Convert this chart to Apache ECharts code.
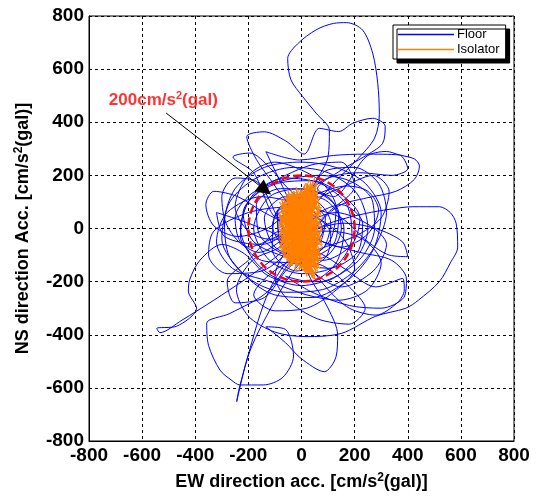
<!DOCTYPE html>
<html><head><meta charset="utf-8">
<script src="https://cdn.jsdelivr.net/npm/echarts@6/dist/echarts.min.js"></script>
<style>html,body{margin:0;padding:0;background:#fff}#c{width:536px;height:502px}</style>
</head><body><div id="c"></div>
<script>
const axisTicks = [-800,-600,-400,-200,0,200,400,600,800];
const legendNames = ['Floor','Isolator'];
const floorPts = [[0,0],[50,40],[110,-20],[90,-110],[-20,-160],[-110,-80],[-100,50],[0,130],[100,100],[160,0],[130,-130],[30,-200],[-60,-180],
[40,-240],[180,-290],[300,-300],[385,-260],[395,-190],[340,-120],[220,-90],[80,-50],[-40,10],
[-140,60],[-240,120],[-330,140],[-360,90],[-330,10],[-240,-30],[-130,0],[-40,70],[60,130],[170,160],[250,140],[290,70],[250,-20],[150,-70],[50,-30],
[0,60],[50,170],[100,270],[105,370],[55,434],[5,496],[-40,560],[-52,640],[-15,695],[55,748],[120,772],[170,775],[230,747],[268,660],[287,547],[293,430],[275,340],[210,260],[130,180],[50,90],
[-60,-30],[-160,-90],[-230,-50],[-250,40],[-190,130],[-70,180],[60,200],[180,180],[265,110],[275,0],[225,-110],[120,-185],[0,-215],[-130,-175],[-215,-95],
[-300,-60],[-382,-119],[-420,-190],[-426,-235],[-395,-300],[-470,-368],[-545,-376],[-533,-392],[-450,-345],[-330,-270],[-210,-190],[-100,-110],
[0,-30],[120,25],[243,57],[330,72],[419,82],[519,82],[560,60],[582,20],[588,-70],[560,-130],[519,-200],[440,-270],[393,-300],[280,-330],[150,-395],[17,-407],[-100,-390],[-200,-330],[-245,-230],[-185,-120],[-70,-60],
[-40,60],[-100,160],[-170,260],[-206,346],[-140,364],[-60,330],[10,280],[67,377],[140,365],[193,396],[268,415],[315,385],[305,320],[235,270],[150,220],[60,150],
[120,120],[243,270],[320,290],[368,277],[425,262],[444,235],[425,185],[355,140],[245,115],[140,85],
[40,-10],[-40,-120],[-130,-240],[-270,-320],[-357,-357],[-350,-440],[-307,-533],[-265,-570],[-232,-589],[-144,-589],[-70,-560],[-30,-480],[-60,-380],
[-134,-370],[-60,-430],[-2,-489],[86,-539],[130,-483],[136,-401],[100,-300],[40,-200],[-20,-100],
[-120,-230],[-206,-495],[-244,-652],[-234,-600],[-190,-450],[-110,-290],[-30,-160],
[50,-90],[160,-150],[280,-220],[381,-188],[387,-232],[360,-280],[280,-326],[180,-300],[100,-230],
[-50,-50],[-200,20],[-320,60],[-290,-30],[-150,-60],[-10,10],[130,60],[260,10],[320,-60],[270,-160],[150,-220],[40,-160],
[-80,-10],[-200,-120],[-280,-200],[-250,-280],[-140,-260],[-60,-160],[30,-60],
[-20,50],[-134,289],[-8,258],[120,275],[240,280],[368,277],[400,225],[340,200],[220,210],[100,190],[0,120],[-90,40],
[-180,210],[-258,269],[-194,284],[-120,230],[-50,150],[40,80],[150,40],[250,-50],[330,-100],[400,-106],[380,-50],[280,0],[160,20],[60,0],
[-30,-40],[-120,-40],[-200,-10],[-250,80],[-200,200],[-100,250],[0,220],[80,170],[130,80],[110,-40],[40,-100],[0,0],
[30,40],[150,90],[230,20],[210,-90],[100,-150],[-30,-130],[-150,-120],[-230,-30],[-200,100],[-90,170],[40,180],[160,120],[220,40],[190,-60],[80,-120],[-60,-100],[-160,-20],[-170,90],[-80,150],[50,140],[140,60],[120,-60],[20,-110],[-100,-70],[-140,40],[-60,120],[60,100],[110,20],[70,-80],[-40,-80],[-110,10],[-60,90],[40,70],[80,-10],[20,-70],[-80,-40],[-90,60],[10,90],[90,40],[60,-60],[-30,-50],
[-160,170],[-250,190],[-300,120],[-280,10],[-200,-70],[-60,-20],[100,-10],[230,-40],[300,-130],[250,-230],[140,-270],[20,-250],[-120,-200],[-260,-150],[-320,-50],[-280,60],[-150,120],[0,100],[140,150],[270,200],[330,140],[300,40],[200,-30],[60,-80],[-90,-150],[-180,-250],[-100,-310],[20,-300],[120,-240],[200,-150],[160,-40],[60,40],[-60,80],[-200,60],[-330,-10],[-350,-100],[-280,-170],[-150,-160],[-20,-60],[100,60],[200,160],[150,250],[40,240],[-60,200],[-150,150],[-220,60],[-180,-50],[-50,-110],[80,-140],[180,-220],[240,-300],[180,-360],[60,-340],[-50,-270],[-100,-180],[-20,-20],
[80,210],[200,230],[290,170],[320,60],[280,-60],[200,-160],[80,-230],[-60,-240],[-180,-200],[-270,-110],[-290,20],[-250,150],[-140,230],[0,250],[130,230],[240,170],[300,60],[270,-80],[180,-190],[40,-260],[-100,-250],[-220,-170],[-300,-40],[-270,100],[-170,190],[-30,230],[100,210],[210,130],[250,0],[200,-120],[80,-200],[-50,-200],[-170,-130],[-230,0],[-180,130],[-60,190],[70,170],[170,90],[190,-30],[130,-140],[0,-170],[-120,-120],[-180,0],[-120,120],[0,150],[110,110],[150,0],[100,-100],[0,-120],[-80,-60],[-90,50],[0,80]];
const isolatorPts = [[-10,0],[-40,110],[-25,-90],[-70,60],[10,-130],[-80,20],[30,150],[-75,-40],[40,-160],[-50,100],[60,60],[-80,-60],[45,175],[-55,-110],[65,-40],[-30,130],[35,-175],[-85,15],[55,120],[-20,-140],[-82,40],[40,90],[-45,-120],[70,20],[30,185],[-70,-80],[50,-130],[-65,90],[25,-70],[-20,145],[70,-20],[-40,-130],[20,125],[-87,0],[60,-100],[-35,95],[45,-190],[-60,55],[75,80],[-20,-110],[-50,115],[55,-150],[-80,-20],[35,145],[10,-165],[65,45],[-40,125],[25,-95],[-75,-85],[50,190],[-30,-40],[78,-60],[-5,150],[30,-140],[-85,60],[50,100],[-45,-125],[70,-110],[15,170],[-80,-50],[40,30],[20,-180],[-65,80],[60,130],[-25,-150],[30,70],[-60,-60],[55,-170],[-20,110],[-85,20],[40,160],[-45,-100],[75,-30],[-70,95],[15,-120],[-40,130],[45,-80],[10,155],[80,40],[-55,-115],[35,-160],[-86,-40],[60,110],[-20,-70],[25,165],[65,-130],[-50,30],[40,-185],[-60,120],[55,20],[0,-150],[70,90],[-80,-10],[20,145],[-65,-85],[65,-60],[-45,120],[40,-140],[-82,-75],[45,160],[-25,-115],[75,-100],[-70,60],[50,135],[-35,-140],[20,50],[-55,-50],[60,175],[-80,80],[35,-70],[-10,130],[60,-160],[-75,-30],[45,100],[15,-170],[78,10],[-40,90],[-65,-110],[55,-120],[0,145],[68,-50],[-85,50],[25,-100],[-50,105],[50,-180],[-70,-70],[40,120],[-20,-130],[70,70],[-30,140],[30,-40],[-50,-145],[70,120],[-60,60],[25,-160],[-70,90],[50,-90],[20,170],[60,-140],[-80,-60],[35,80],[-55,-100],[70,30],[-30,-60],[-75,110],[45,-110],[-40,40],
[-85,50],[-30,-100],[-55,130],[25,-150],[-75,-90],[45,110],[-86,-20],[65,-140],[10,160],[40,-170],[-80,80],[60,50],[-40,-140],[65,150],[-78,-60],[-15,125],[20,-160],[55,-20],[-84,100],[25,-80],[-30,140],[75,-120],[-60,-110],[40,60],[30,-175],[65,100],[-75,20],[10,-130],[-50,140],[55,-90],[-60,70],[35,-135],[-85,-30],[55,170],[5,-160],[-75,70],[50,-60],[-50,-135],[25,150],[-84,0],[50,-190],[-40,100],[-55,-120],[50,140],[-50,-60],[78,-10],[-20,155],[20,-110],[-84,-70],[45,80],[0,-150],[68,-80],[-70,110],[35,130],[-50,-90],[70,-150],[-70,40],[15,-40],[-45,-140],[55,90],[-40,120],[65,-120],[-85,20],[35,170],[-55,-110],[65,-30],[-60,90],[25,-170],[-65,100],[55,150],[-75,-50],[40,-100],[-40,60],[80,-70],[-25,-160],[20,140],[-70,10],[60,-150],[-55,130],[45,-50],[-50,-120],[75,60],[-80,-20],[5,110],[-70,-100],[50,-170],[-86,60],[35,40],[-40,-80],[65,110],[-50,130],[25,-130],[-78,-70],[65,10],[-10,-160],[60,140],[-75,70],[15,-90],[-40,150],[55,-110],[-45,-30],[55,160],[-70,-110],[30,-20],[-55,120],[75,-40],[-20,-140],[-80,40],[55,-160],[-45,80],[0,0]];
const limitCircle = [[200,0],[197,35],[188,68],[173,100],[153,129],[129,153],[100,173],[68,188],[35,197],[0,200],[-35,197],[-68,188],[-100,173],[-129,153],[-153,129],[-173,100],[-188,68],[-197,35],[-200,0],[-197,-35],[-188,-68],[-173,-100],[-153,-129],[-129,-153],[-100,-173],[-68,-188],[-35,-197],[0,-200],[35,-197],[68,-188],[100,-173],[129,-153],[153,-129],[173,-100],[188,-68],[197,-35],[200,0]];
const annotText = [-520,484];
const arrowFrom = [-510,435];
const arrowTo = [-137,145];

const FF = '"Liberation Sans", Arial, sans-serif';
const chart = echarts.init(document.getElementById('c'));
const axisCommon = {
  type:'value', min:-800, max:800, interval:200,
  axisLine:{show:true, onZero:false, lineStyle:{color:'#000',width:1}},
  axisTick:{show:false},
  axisLabel:{color:'#000', fontSize:19, fontWeight:'bold', fontFamily:FF, margin:5},
  splitLine:{show:true, lineStyle:{color:'#000', width:1, type:[3,3]}},
  nameLocation:'middle',
  nameTextStyle:{color:'#000', fontSize:18, fontWeight:'bold', fontFamily:FF,
    rich:{a:{fontSize:18,fontWeight:'bold',fontFamily:FF,color:'#000'}, s:{fontSize:12,fontWeight:'bold',fontFamily:FF,color:'#000',verticalAlign:'top',padding:[0,0,8,0]}}}
};
chart.setOption({
  animation:false,
  backgroundColor:'#fff',
  grid:{left:89, top:16, right:22, bottom:61, show:true, borderColor:'#000', borderWidth:1, backgroundColor:'transparent'},
  xAxis:Object.assign({}, axisCommon, {name:'{a|EW direction acc. [cm/s}{s|2}{a|(gal)]}', nameGap:31}),
  yAxis:Object.assign({}, axisCommon, {name:'{a|NS direction Acc. [cm/s}{s|2}{a|(gal)]}', nameGap:56}),
  legend:{data:legendNames, orient:'vertical', left:393, top:25, backgroundColor:'#fff', borderColor:'#000', borderWidth:1,
    padding:[2,6,2,5], itemGap:0, itemWidth:56, itemHeight:1.5, icon:'rect',
    shadowColor:'#000', shadowOffsetX:4, shadowOffsetY:4, shadowBlur:0.01,
    textStyle:{color:'#000', fontSize:13, fontFamily:FF, lineHeight:15, padding:[0,0,0,-2]}},
  series:[
    {name:'Floor', type:'line', data:floorPts, symbol:'none', smooth:0.3, lineStyle:{color:'#0000ff', width:1}, itemStyle:{color:'#0000ff'}, z:2, silent:true},
    {name:'Isolator', type:'line', data:isolatorPts, symbol:'none', smooth:false, lineStyle:{color:'#ff8000', width:1}, itemStyle:{color:'#ff8000'}, z:3, silent:true},
    {name:'circle', type:'line', data:limitCircle, symbol:'none', smooth:true, lineStyle:{color:'#ff0000', width:2.5, type:[8,4]}, z:4, silent:true},
    {name:'annot', type:'scatter', data:[annotText], symbolSize:0, z:5, silent:true,
      label:{show:true, position:'inside', formatter:'{a|200cm/s}{s|2}{a|(gal)}',
        rich:{a:{fontSize:17,fontWeight:'bold',fontFamily:FF,color:'#ff0000'}, s:{fontSize:11,fontWeight:'bold',fontFamily:FF,color:'#ff0000',verticalAlign:'top',padding:[0,0,7,0]}}},
      markLine:{silent:true, symbol:['none','triangle'], symbolSize:15, animation:false,
        label:{show:false}, lineStyle:{color:'#000', width:1, type:'solid'},
        emphasis:{disabled:true},
        data:[[{coord:arrowFrom},{coord:arrowTo}]]}}
  ]
});
</script></body></html>
